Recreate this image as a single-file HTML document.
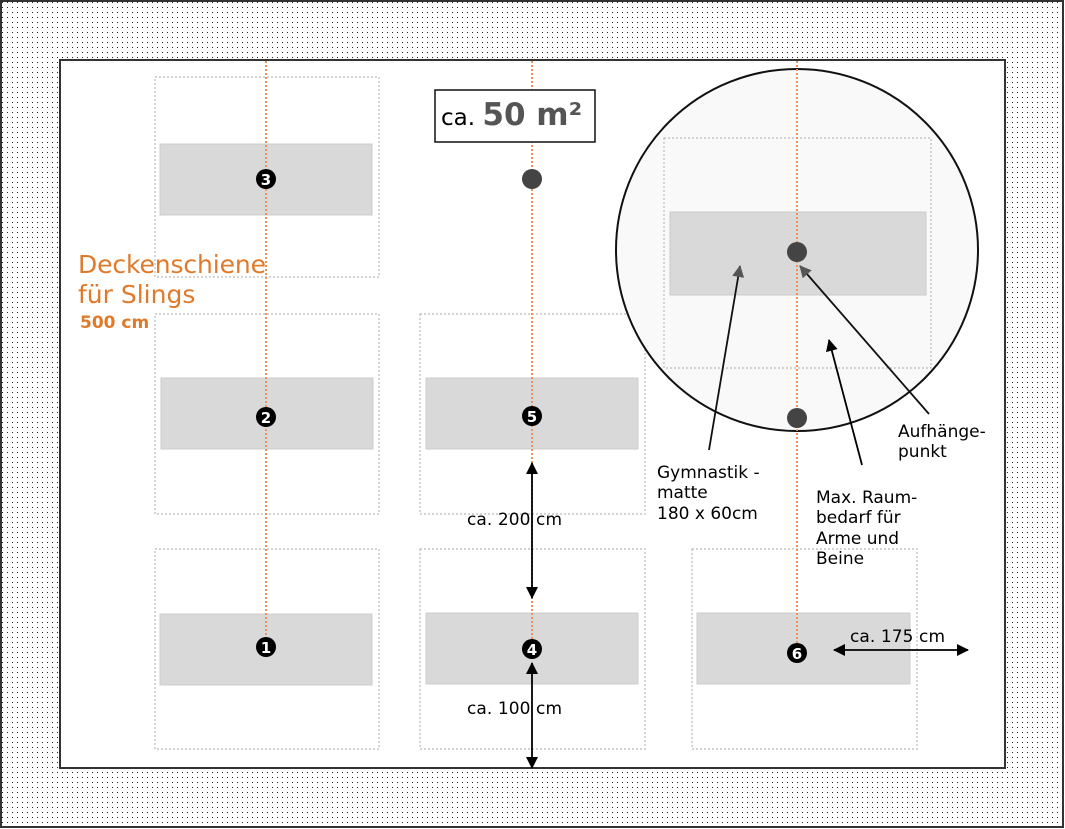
<!DOCTYPE html>
<html><head><meta charset="utf-8"><style>
html,body{margin:0;padding:0;background:#fff}
svg{display:block}
text{font-family:"DejaVu Sans",Verdana,sans-serif}
</style></head><body>
<svg width="1065" height="829" viewBox="0 0 1065 829" xmlns="http://www.w3.org/2000/svg">
<defs>
<pattern id="dots" width="5" height="5" patternUnits="userSpaceOnUse">
<rect width="5" height="5" fill="#fff"/><rect x="2" y="2" width="1" height="1" fill="#222"/>
</pattern>
<marker id="ahs" markerWidth="12" markerHeight="12" refX="11" refY="6" orient="auto-start-reverse" markerUnits="userSpaceOnUse">
<path d="M0,0 L12,6 L0,12 z" fill="#000"/></marker>
<marker id="ahg" markerWidth="12" markerHeight="12" refX="11" refY="6" orient="auto" markerUnits="userSpaceOnUse">
<path d="M0,0 L12,6 L0,12 z" fill="#555"/></marker>
</defs>
<rect x="0" y="0" width="1065" height="829" fill="url(#dots)"/>
<rect x="1" y="1" width="1062" height="826" fill="none" stroke="#333" stroke-width="2"/>
<rect x="60" y="60" width="945" height="708" fill="#fff" stroke="#333" stroke-width="2"/>

<g fill="none" stroke="#bbb" stroke-width="1.2" stroke-dasharray="2,2">
<rect x="155" y="77" width="224" height="200"/>
<rect x="155" y="314" width="224" height="200"/>
<rect x="155" y="549" width="224" height="200"/>
<rect x="420" y="314" width="225" height="200"/>
<rect x="420" y="549" width="225" height="200"/>
<rect x="692" y="549" width="225" height="200"/>
</g>
<g fill="#d9d9d9" stroke="#ccc">
<rect x="160" y="144" width="212" height="71"/>
<rect x="161" y="378" width="212" height="71"/>
<rect x="160" y="614" width="212" height="71"/>
<rect x="426" y="378" width="212" height="71"/>
<rect x="426" y="613" width="212" height="71"/>
<rect x="697" y="613" width="213" height="71"/>
</g>

<circle cx="797" cy="250" r="181" fill="#f9f9f9" stroke="#111" stroke-width="2"/>
<rect x="664" y="138" width="267" height="230" fill="none" stroke="#bbb" stroke-width="1.2" stroke-dasharray="2,2"/>
<rect x="670" y="212" width="256" height="83" fill="#d9d9d9" stroke="#ccc"/>

<g stroke="#e8965a" stroke-width="2" stroke-dasharray="2,2">
<line x1="266" y1="61" x2="266" y2="645"/>
<line x1="532" y1="61" x2="532" y2="640"/>
<line x1="797" y1="61" x2="797" y2="652"/>
</g>

<rect x="435" y="90" width="160" height="52" fill="#fff" stroke="#111" stroke-width="1.5"/>
<text x="441" y="125" font-size="23" fill="#000">ca. <tspan font-weight="bold" font-size="31" fill="#555">50 m²</tspan></text>

<g fill="#444"><circle cx="532" cy="179" r="10"/><circle cx="797" cy="252" r="10"/><circle cx="797" cy="418" r="10"/></g>

<g font-size="15" font-weight="bold" text-anchor="middle" fill="#fff">
<circle cx="266" cy="179" r="10" fill="#000"/><text x="266" y="185">3</text>
<circle cx="266" cy="417" r="10" fill="#000"/><text x="266" y="423">2</text>
<circle cx="266" cy="647" r="10" fill="#000"/><text x="266" y="653">1</text>
<circle cx="532" cy="416" r="10" fill="#000"/><text x="532" y="422">5</text>
<circle cx="532" cy="649" r="10" fill="#000"/><text x="532" y="655">4</text>
<circle cx="797" cy="653" r="10" fill="#000"/><text x="797" y="659">6</text>
</g>

<g stroke="#000" stroke-width="1.8">
<line x1="532" y1="463" x2="532" y2="598" marker-start="url(#ahs)" marker-end="url(#ahs)"/>
<line x1="532" y1="663" x2="532" y2="768" marker-start="url(#ahs)" marker-end="url(#ahs)"/>
<line x1="834" y1="650" x2="968" y2="650" marker-start="url(#ahs)" marker-end="url(#ahs)"/>
<line x1="709" y1="450" x2="740" y2="266" marker-end="url(#ahg)" stroke="#111"/>
<line x1="862" y1="465" x2="829" y2="340" marker-end="url(#ahs)"/>
<line x1="929" y1="414" x2="800" y2="266" marker-end="url(#ahg)" stroke="#111"/>
</g>

<g font-size="17" fill="#000">
<text x="467" y="525" textLength="95">ca. 200 cm</text>
<text x="467" y="714" textLength="95">ca. 100 cm</text>
<text x="850" y="642" textLength="95">ca. 175 cm</text>
<text x="657" y="478">Gymnastik -</text>
<text x="657" y="498">matte</text>
<text x="657" y="519">180 x 60cm</text>
<text x="816" y="503">Max. Raum-</text>
<text x="816" y="523">bedarf für</text>
<text x="816" y="544">Arme und</text>
<text x="816" y="564">Beine</text>
<text x="898" y="437">Aufhänge-</text>
<text x="898" y="457">punkt</text>
</g>
<g fill="#e07a2a">
<text x="78" y="273" font-size="25" textLength="188">Deckenschiene</text>
<text x="78" y="303" font-size="25">für Slings</text>
<text x="80" y="328" font-size="17" font-weight="bold">500 cm</text>
</g>
</svg>
</body></html>
